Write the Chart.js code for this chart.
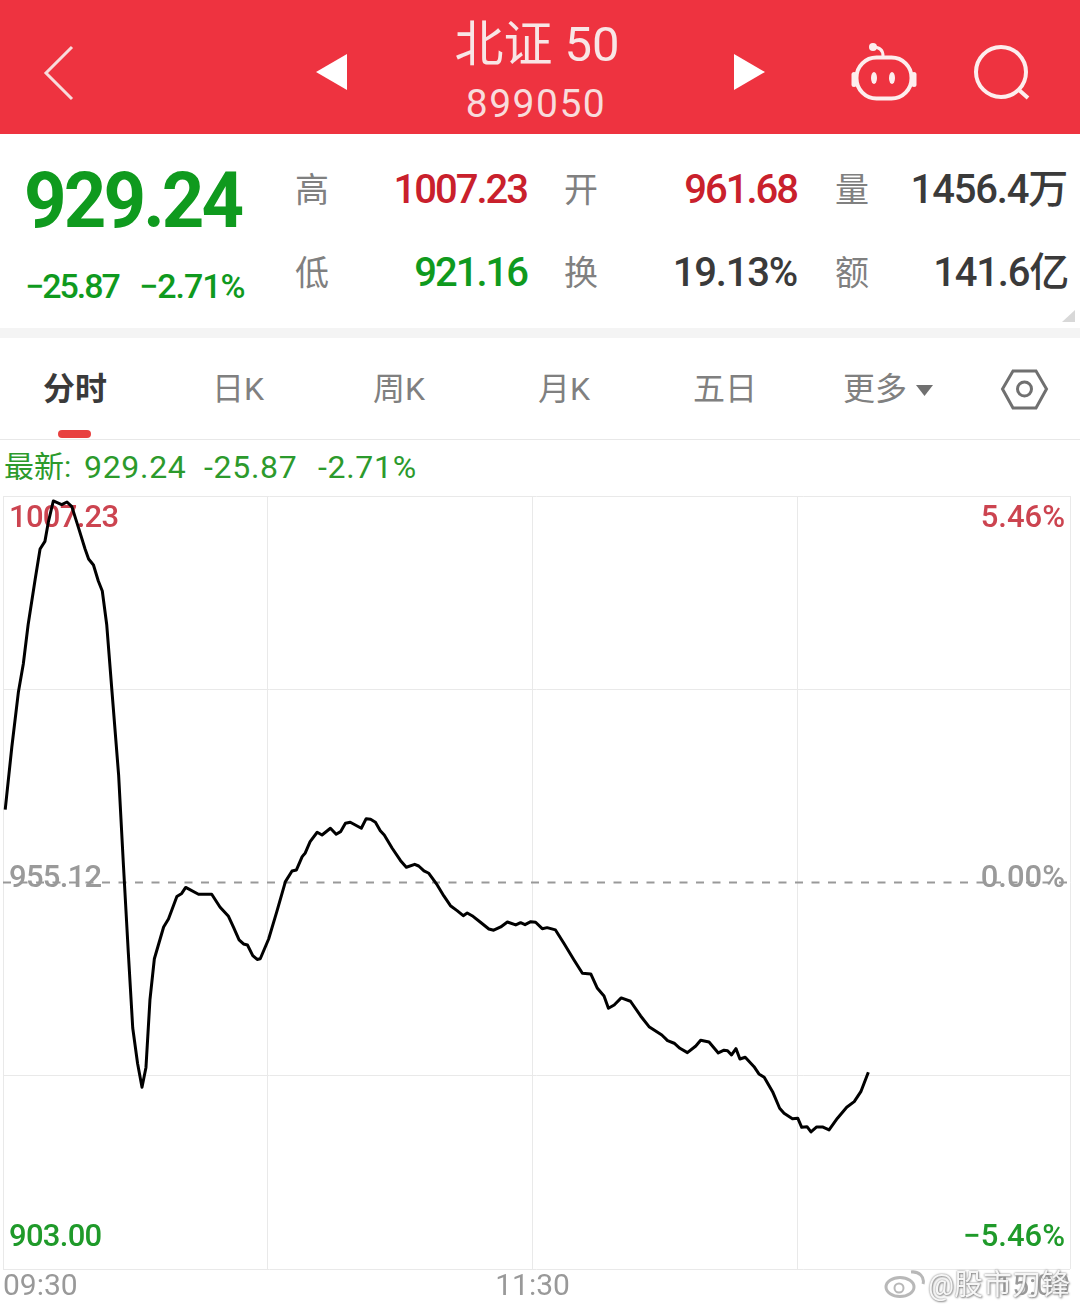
<!DOCTYPE html>
<html>
<head>
<meta charset="utf-8">
<title>北证50</title>
<script src="https://cdn.jsdelivr.net/npm/chart.js@4"></script>
<style>
  html, body { margin: 0; padding: 0; background: #fff; }
  body { width: 1080px; height: 1312px; position: relative; overflow: hidden;
         font-family: Roboto, "Noto Sans CJK SC", sans-serif; }
  #chart { position: absolute; left: 0; top: 0; }
  .t { position: absolute; white-space: nowrap; line-height: 1; }
  .r { text-align: right; }
  .c { text-align: center; }
  .num { font-size: 40px; font-weight: 500; letter-spacing: -2px; }
  .wide { letter-spacing: -1.200px; }
  .green { color: #0f9a1e; }
  .red { color: #c9202c; }
  .dark { color: #3a3a3a; }
  .gray { color: #808080; }
  .latest { color: #2c9a2c; font-size: 32px; letter-spacing: 0.7px; top: 451px; }
  #header { position: absolute; left: 0; top: 0; width: 1080px; height: 134px; background: #ee3340; }
  #band { position: absolute; left: 0; top: 328px; width: 1080px; height: 10px; background: #f4f4f4; }
  #tabline { position: absolute; left: 0; top: 439px; width: 1080px; height: 1px; background: #e8e8e8; }
  #pill { position: absolute; left: 58px; top: 430px; width: 33px; height: 8px; border-radius: 4px; background: #e8403f; }
  svg { position: absolute; left: 0; top: 0; }
</style>
</head>
<body>
<div id="header"></div>
<div id="band"></div>
<div id="tabline"></div>
<div id="pill"></div>

<svg width="1080" height="440" fill="none">
  <path d="M72 47 L46 73 L72 99" stroke="#f8dcdc" stroke-width="3"/>
  <path d="M347 54 L316 72 L347 90 Z" fill="#fff"/>
  <path d="M734 54 L765 72 L734 90 Z" fill="#fff"/>
  <rect x="856.500" y="57.500" width="55" height="41" rx="20" stroke="#fdeeee" stroke-width="4"/>
  <rect x="851.500" y="72" width="5" height="15" rx="2.500" fill="#fdeeee"/>
  <rect x="911.500" y="72" width="5" height="15" rx="2.500" fill="#fdeeee"/>
  <path d="M873 47 C880 47 883 50 883 56" stroke="#fdeeee" stroke-width="3"/>
  <circle cx="873" cy="47" r="4" fill="#fdeeee"/>
  <ellipse cx="874" cy="78" rx="3" ry="6" fill="#fdeeee"/>
  <ellipse cx="892" cy="78" rx="3" ry="6" fill="#fdeeee"/>
  <circle cx="1001" cy="72" r="25" stroke="#fdeeee" stroke-width="4"/>
  <path d="M1019 90 L1028 98" stroke="#fdeeee" stroke-width="4"/>
  <path d="M1075 310 L1075 322 L1062 322 Z" fill="#d8d8d8"/>
  <path d="M1002.500 389 L1013 371 L1036 371 L1046.500 389 L1036 408 L1013 408 Z" stroke="#707070" stroke-width="3"/>
  <circle cx="1024.500" cy="389" r="7" stroke="#707070" stroke-width="3"/>
  <path d="M916 385 L933 385 L924.500 396 Z" fill="#707070"/>
</svg>

<div class="t c" style="left:437px;top:20px;width:200px;font-size:49px;color:#f8e6e6">北证 50</div>
<div class="t c" style="left:436px;top:85px;width:200px;font-size:39px;color:#f8dcdc;letter-spacing:1.500px">899050</div>

<div class="t green" style="left:24px;top:163px;font-size:77px;font-weight:700;letter-spacing:-3px;transform:scaleX(.965);transform-origin:left">929.24</div>
<div class="t green" style="left:25px;top:269px;font-size:34px;font-weight:500;letter-spacing:-2px">−25.87</div>
<div class="t green" style="left:139px;top:269px;font-size:34px;font-weight:500;letter-spacing:-1px">−2.71%</div>

<div class="t gray" style="left:295px;top:173px;font-size:34px">高</div>
<div class="t gray" style="left:295px;top:256px;font-size:34px">低</div>
<div class="t gray" style="left:564px;top:173px;font-size:34px">开</div>
<div class="t gray" style="left:564px;top:256px;font-size:34px">换</div>
<div class="t gray" style="left:835px;top:173px;font-size:34px">量</div>
<div class="t gray" style="left:835px;top:256px;font-size:34px">额</div>

<div class="t r red num" style="right:553px;top:170px">1007.23</div>
<div class="t r green num" style="right:553px;top:253px">921.16</div>
<div class="t r red num" style="right:283px;top:170px">961.68</div>
<div class="t r dark num wide" style="right:283px;top:253px">19.13%</div>
<div class="t r dark num wide" style="right:13px;top:170px">1456.4万</div>
<div class="t r dark num wide" style="right:12px;top:253px">141.6亿</div>

<div class="t dark" style="left:43px;top:373px;font-size:32px;font-weight:700">分时</div>
<div class="t gray" style="left:212px;top:373px;font-size:32px">日K</div>
<div class="t gray" style="left:373px;top:373px;font-size:32px">周K</div>
<div class="t gray" style="left:538px;top:373px;font-size:32px">月K</div>
<div class="t gray" style="left:693px;top:373px;font-size:32px">五日</div>
<div class="t gray" style="left:843px;top:373px;font-size:32px">更多</div>

<div class="t" style="left:4px;top:452px;font-size:30px;color:#2c9a2c">最新:</div>
<div class="t latest" style="left:84px">929.24</div>
<div class="t latest" style="left:204px">-25.87</div>
<div class="t latest" style="left:318px">-2.71%</div>

<canvas id="chart" width="1080" height="1312"></canvas>

<div class="t" style="left:928px;top:1271px;font-size:29px;color:#f6f6f6;text-shadow:0 0 2px #777,1px 1px 2px #999">@股市刀锋</div>
<svg width="1080" height="1312" fill="none" style="pointer-events:none">
  <ellipse cx="900" cy="1287" rx="14" ry="9.500" stroke="#b8b8b8" stroke-width="3" fill="#fff"/>
  <circle cx="899" cy="1288" r="4.500" stroke="#b8b8b8" stroke-width="2"/>
  <path d="M911 1272 C919 1271 925 1277 923 1284" stroke="#b8b8b8" stroke-width="3"/>
</svg>

<script>
// TIME AXIS (minutes after 09:30)
const timeMax = 241.8;
const timeTicks = [0, 60, 120, 180, timeMax];
const timeLabels = ["09:30", "", "11:30", "", "15:00"];

// PRICE AXIS
const prevClose = 955.12;
const priceTicks = [903, 929.06, 981.17, 1007.23];
const priceLabels = ["1007.23", "955.12", "903.00"];
const pctLabels = ["5.46%", "0.00%", "−5.46%"];

// INDEX LINE
const minutes = [
  0.5, 2.0, 3.5, 4.6, 5.7, 7.3, 8.4, 9.5, 10.3, 11.4, 13.3, 14.5, 15.6, 17.1, 18.6, 19.4,
  20.5, 21.6, 22.5, 23.5, 24.7, 26.2, 27.3, 28.4, 29.4, 30.5, 31.5, 32.4, 33.3, 34.3, 36.4, 37.5,
  39.4, 40.5, 41.4, 44.3, 47.3, 49.2, 51.1, 52.2, 53.5, 54.5, 55.4, 56.6, 57.6, 58.3, 60.2, 62.1,
  64.0, 65.5, 66.5, 67.8, 68.5, 69.6, 71.2, 72.3, 74.2, 75.5, 76.5, 77.6, 78.7, 81.2, 82.3, 83.3,
  84.4, 85.5, 86.4, 88.2, 90.1, 91.4, 93.3, 94.2, 95.4, 96.5, 98.4, 99.9, 101.4, 102.9, 104.3, 105.2,
  106.3, 108.2, 110.1, 111.2, 112.8, 114.3, 116.2, 117.3, 118.3, 119.6, 120.7, 122.2, 123.3, 125.2, 127.1, 129.4,
  131.3, 133.2, 134.7, 136.2, 137.2, 138.5, 140.1, 142.2, 144.5, 146.4, 149.3, 150.6, 152.1, 153.4, 155.1, 157.0,
  158.1, 160.0, 162.1, 163.4, 164.2, 165.1, 166.1, 167.0, 168.2, 170.2, 171.3, 172.5, 174.4, 176.0, 177.0, 178.9,
  180.1, 181.0, 182.2, 183.1, 184.4, 185.7, 187.2, 189.1, 191.2, 192.9, 194.4, 196.1
];
const prices = [
  964.95, 973.39, 980.85, 984.58, 989.91, 996.04, 1000.09, 1001.11, 1003.78, 1006.56, 1006.07, 1006.42, 1005.80, 1002.97, 1000.09, 998.74,
  997.93, 995.77, 994.42, 989.91, 980.85, 969.64, 957.37, 945.64, 935.50, 930.70, 927.51, 930.18, 939.28, 944.83, 949.12, 950.20,
  953.22, 953.64, 954.45, 953.53, 953.53, 951.78, 950.55, 949.12, 947.39, 946.83, 946.69, 945.26, 944.74, 944.83, 947.50, 951.28,
  955.23, 956.67, 956.81, 958.60, 959.10, 960.62, 961.89, 961.52, 962.43, 961.62, 961.97, 963.10, 963.24, 962.43, 963.72, 963.64,
  963.24, 962.10, 961.52, 959.73, 958.06, 957.17, 957.57, 957.34, 956.67, 956.36, 954.78, 953.30, 951.99, 951.32, 950.64, 951.01,
  950.64, 949.75, 948.85, 948.68, 949.12, 949.79, 949.39, 949.70, 949.43, 949.83, 949.75, 948.89, 949.03, 948.72, 946.92, 944.67,
  942.88, 942.78, 940.85, 939.82, 938.16, 938.60, 939.55, 939.10, 937.12, 935.68, 934.56, 933.79, 933.44, 932.76, 932.17, 933.07,
  933.84, 933.61, 932.13, 932.50, 932.44, 931.86, 932.71, 931.32, 931.55, 930.28, 929.30, 928.85, 926.91, 924.68, 924.00, 923.27,
  923.33, 922.11, 922.19, 921.48, 922.15, 922.15, 921.75, 923.33, 924.81, 925.57, 926.91, 929.53
];

// y labels sit inside the plot, a bit in from the edges
const sideLabels = {
  id: "sideLabels",
  beforeDatasetsDraw(chart) {
    const { ctx, chartArea, scales } = chart;
    const yPos = [scales.y.getPixelForValue(1007.23) + 23, scales.y.getPixelForValue(prevClose) - 3, scales.y.getPixelForValue(903) - 31];
    const colors = ["#cc4450", "#9a9a9a", "#1f9a2a"];
    ctx.save();
    ctx.font = "500 31px Roboto";
    ctx.textBaseline = "middle";
    priceLabels.forEach((txt, i) => {
      ctx.fillStyle = colors[i];
      ctx.letterSpacing = "-0.7px";
      ctx.textAlign = "left";
      ctx.fillText(txt, chartArea.left + 6, yPos[i]);
      ctx.letterSpacing = "0px";
      ctx.textAlign = "right";
      ctx.fillText(pctLabels[i], chartArea.right - 5, yPos[i]);
    });
    ctx.restore();
  }
};

new Chart(document.getElementById("chart"), {
  type: "line",
  data: {
    datasets: [
      {
        data: minutes.map((m, i) => ({ x: m, y: prices[i] })),
        borderColor: "#000",
        borderWidth: 3,
        borderJoinStyle: "round",
        tension: 0,
        pointRadius: 0,
        order: 1
      },
      {
        data: [{ x: 0, y: prevClose }, { x: timeMax, y: prevClose }],
        borderColor: "#999",
        borderWidth: 2,
        borderDash: [8, 8.500],
        pointRadius: 0,
        order: 2
      }
    ]
  },
  options: {
    responsive: false,
    animation: false,
    layout: { padding: { left: 3, right: 10, top: 496, bottom: 7 } },
    plugins: { legend: { display: false }, tooltip: { enabled: false } },
    scales: {
      x: {
        type: "linear",
        min: 0,
        max: timeMax,
        afterBuildTicks: axis => { axis.ticks = timeTicks.map(v => ({ value: v })); },
        ticks: {
          autoSkip: false,
          maxRotation: 0,
          align: "inner",
          padding: 0,
          color: "#999",
          font: { family: "Roboto", size: 30 },
          callback: (v, i) => timeLabels[i]
        },
        grid: { color: "#e9e9e9", lineWidth: 1, drawTicks: false },
        border: { display: false }
      },
      y: {
        min: 903,
        max: 1007.23,
        afterBuildTicks: axis => { axis.ticks = priceTicks.map(v => ({ value: v })); },
        ticks: { display: false },
        grid: { color: "#e9e9e9", lineWidth: 1, drawTicks: false },
        border: { display: false }
      }
    }
  },
  plugins: [sideLabels]
});
</script>
</body>
</html>
